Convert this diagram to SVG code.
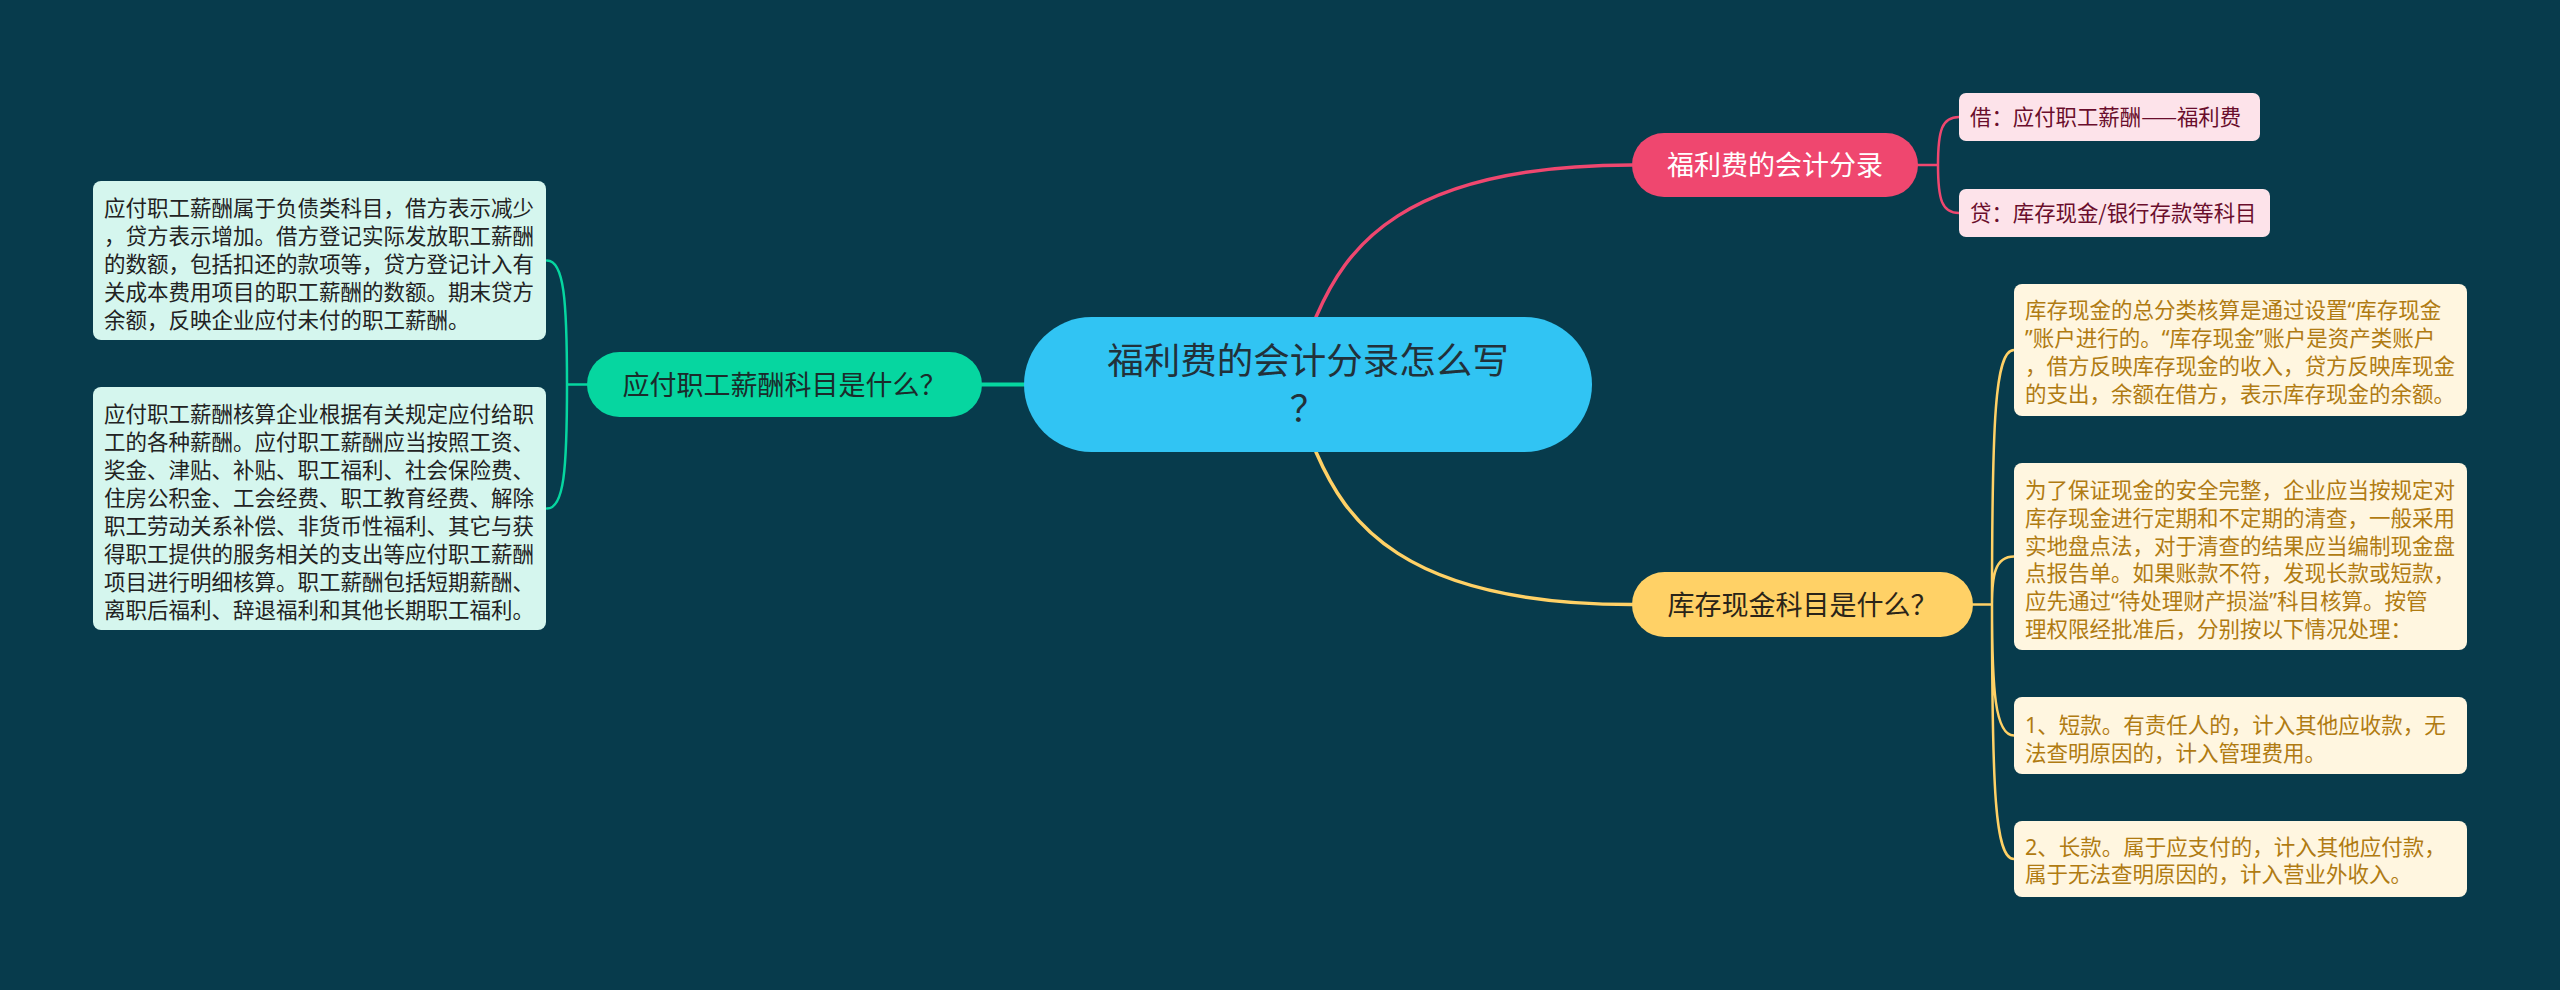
<svg xmlns="http://www.w3.org/2000/svg" width="2560" height="990" viewBox="0 0 2560 990">
<style>
text{font-family:"Noto Sans CJK SC","Noto Sans",sans-serif;}
.lf{fill:#D5F6EE;}
.lt{font-size:21.5px;fill:#222;}
.pf{fill:#FDE3EA;}
.pt{font-size:21.4px;fill:#6A0E2C;}
.yf{fill:#FFF6E0;}
.yt{font-size:21.5px;fill:#B07B12;font-family:"Noto Sans","Noto Sans CJK SC",sans-serif;}
.topic{font-size:27px;text-anchor:middle;}
.c{fill:none;stroke-linecap:round;}
</style>
<rect width="2560" height="990" fill="#073B4C"/>
<g id="connectors">
<path class="c" d="M982,384.5 H1024" stroke="#06D6A0" stroke-width="4"/>
<path class="c" d="M587,384.5 H567 M567,384.5 C567,300 564,260.5 547,260.5 M567,384.5 C567,470 564,508.5 547,508.5" stroke="#06D6A0" stroke-width="2.5"/>
<path class="c" d="M1316,317 C1345,250 1400,165 1632,165" stroke="#EF476F" stroke-width="3.5"/>
<path class="c" d="M1917,165 H1938 M1938,165 C1938,130 1942,117 1959,117 M1938,165 C1938,200 1942,213 1959,213" stroke="#EF476F" stroke-width="2.5"/>
<path class="c" d="M1316,452 C1345,519 1400,604.5 1632,604.5" stroke="#FFD166" stroke-width="3.5"/>
<path class="c" d="M1973,604.5 H1992 M1992,604.5 C1992,420 1995,350 2014,350 M1992,604.5 C1992,575 1995,556.5 2014,556.5 M1992,604.5 C1992,690 1995,735.5 2014,735.5 M1992,604.5 C1992,790 1995,859 2014,859" stroke="#FFD166" stroke-width="2.5"/>
</g>
<g id="center">
<rect x="1024" y="317" width="568" height="135" rx="67.5" fill="#31C4F3"/>
<text x="1308" y="373.5" font-size="36.5" text-anchor="middle" fill="#22313A">福利费的会计分录怎么写</text>
<text x="1308" y="422" font-size="36.5" text-anchor="middle" fill="#22313A">？</text>
</g>
<g id="topic-left">
<rect x="587" y="352" width="395" height="65" rx="32.5" fill="#06D6A0"/>
<text class="topic" x="784.5" y="394.8" fill="#1B2B2B">应付职工薪酬科目是什么？</text>
</g>
<g id="leaf-left-1">
<rect class="lf" x="93" y="181" width="453" height="159" rx="8"/>
<text class="lt" x="104" y="216">应付职工薪酬属于负债类科目，借方表示减少</text>
<text class="lt" x="104" y="244.1">，贷方表示增加。借方登记实际发放职工薪酬</text>
<text class="lt" x="104" y="272.2">的数额，包括扣还的款项等，贷方登记计入有</text>
<text class="lt" x="104" y="300.3">关成本费用项目的职工薪酬的数额。期末贷方</text>
<text class="lt" x="104" y="328.4">余额，反映企业应付未付的职工薪酬。</text>
</g>
<g id="leaf-left-2">
<rect class="lf" x="93" y="387" width="453" height="243" rx="8"/>
<text class="lt" x="104" y="421.5">应付职工薪酬核算企业根据有关规定应付给职</text>
<text class="lt" x="104" y="449.6">工的各种薪酬。应付职工薪酬应当按照工资、</text>
<text class="lt" x="104" y="477.7">奖金、津贴、补贴、职工福利、社会保险费、</text>
<text class="lt" x="104" y="505.8">住房公积金、工会经费、职工教育经费、解除</text>
<text class="lt" x="104" y="533.9">职工劳动关系补偿、非货币性福利、其它与获</text>
<text class="lt" x="104" y="562">得职工提供的服务相关的支出等应付职工薪酬</text>
<text class="lt" x="104" y="590.1">项目进行明细核算。职工薪酬包括短期薪酬、</text>
<text class="lt" x="104" y="618.2">离职后福利、辞退福利和其他长期职工福利。</text>
</g>
<g id="topic-pink">
<rect x="1632" y="133" width="286" height="64" rx="32" fill="#EF476F"/>
<text class="topic" x="1775" y="175.3" fill="#FFFFFF">福利费的会计分录</text>
</g>
<g id="leaf-pink-1">
<rect class="pf" x="1959" y="93" width="301" height="48" rx="7"/>
<text class="pt" x="1970" y="125">借：应付职工薪酬——福利费</text>
</g>
<g id="leaf-pink-2">
<rect class="pf" x="1959" y="189" width="311" height="48" rx="7"/>
<text class="pt" x="1970" y="221">贷：库存现金/银行存款等科目</text>
</g>
<g id="topic-yellow">
<rect x="1632" y="572" width="341" height="65" rx="32.5" fill="#FFD166"/>
<text class="topic" x="1802.5" y="614.8" fill="#2A2418">库存现金科目是什么？</text>
</g>
<g id="leaf-yellow-1">
<rect class="yf" x="2014" y="284" width="453" height="132" rx="8"/>
<text class="yt" x="2025" y="318.2">库存现金的总分类核算是通过设置“库存现金</text>
<text class="yt" x="2025" y="346.2">”账户进行的。“库存现金”账户是资产类账户</text>
<text class="yt" x="2025" y="374.2">，借方反映库存现金的收入，贷方反映库现金</text>
<text class="yt" x="2025" y="402.2">的支出，余额在借方，表示库存现金的余额。</text>
</g>
<g id="leaf-yellow-2">
<rect class="yf" x="2014" y="463" width="453" height="187" rx="8"/>
<text class="yt" x="2025" y="498.2">为了保证现金的安全完整，企业应当按规定对</text>
<text class="yt" x="2025" y="526">库存现金进行定期和不定期的清查，一般采用</text>
<text class="yt" x="2025" y="553.7">实地盘点法，对于清查的结果应当编制现金盘</text>
<text class="yt" x="2025" y="581.4">点报告单。如果账款不符，发现长款或短款，</text>
<text class="yt" x="2025" y="609.1">应先通过“待处理财产损溢”科目核算。按管</text>
<text class="yt" x="2025" y="636.8">理权限经批准后，分别按以下情况处理：</text>
</g>
<g id="leaf-yellow-3">
<rect class="yf" x="2014" y="697" width="453" height="77" rx="8"/>
<text class="yt" x="2025" y="733">1、短款。有责任人的，计入其他应收款，无</text>
<text class="yt" x="2025" y="760.5">法查明原因的，计入管理费用。</text>
</g>
<g id="leaf-yellow-4">
<rect class="yf" x="2014" y="821" width="453" height="76" rx="8"/>
<text class="yt" x="2025" y="854.7">2、长款。属于应支付的，计入其他应付款，</text>
<text class="yt" x="2025" y="881.7">属于无法查明原因的，计入营业外收入。</text>
</g>
</svg>
